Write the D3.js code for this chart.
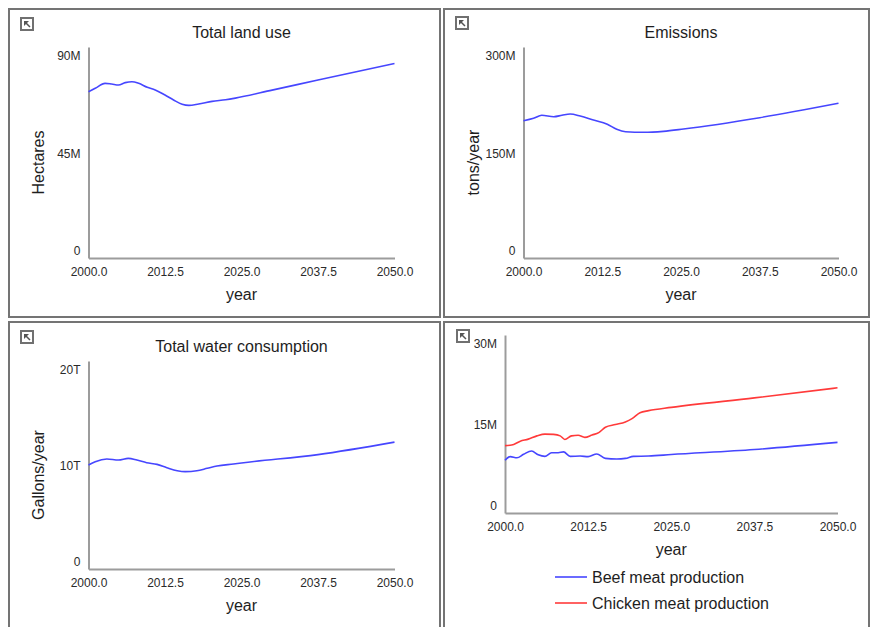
<!DOCTYPE html>
<html>
<head>
<meta charset="utf-8">
<script src="https://cdn.jsdelivr.net/npm/d3@7/dist/d3.min.js"></script>
<style>
  body { margin: 0; background: #fff; }
  svg { display: block; }
  text { font-family: "Liberation Sans", Arial, sans-serif; }
</style>
</head>
<body>
<svg id="chart" width="872" height="627"></svg>
<script>
// ---- data -------------------------------------------------------------
const xTickValues = [2000, 2012.5, 2025, 2037.5, 2050];

// Total land use (million hectares)
const landYears = [2000, 2001.1, 2002.7, 2003.8, 2004.9, 2006.0, 2007.1, 2008.2, 2009.6, 2010.9, 2012.5, 2013.9, 2015.3, 2016.4, 2018.0, 2020.2, 2022.4, 2024.0, 2030, 2037.5, 2050];
const landValues = [70.9, 72.4, 74.5, 74.2, 73.8, 74.8, 75.2, 74.5, 72.8, 71.7, 69.5, 67.4, 65.6, 65.1, 65.7, 66.8, 67.5, 68.2, 71.6, 75.9, 83.0];
const landTicks = [0, 45, 90];
const landTickLabels = ["0", "45M", "90M"];

// Emissions (million tons/year)
const emisYears = [2000, 2001.6, 2002.9, 2004.8, 2006.1, 2007.4, 2009.0, 2011.1, 2013.3, 2014.8, 2016.2, 2019.1, 2022.2, 2025.4, 2037.5, 2050];
const emisValues = [195.2, 198.6, 202.9, 200.9, 202.9, 204.7, 201.9, 196.2, 190.1, 183.0, 179.6, 178.7, 180.1, 183.4, 199.5, 220.0];
const emisTicks = [0, 150, 300];
const emisTickLabels = ["0", "150M", "300M"];

// Total water consumption (trillion gallons/year)
const waterYears = [2000, 2001.1, 2003.0, 2004.9, 2006.5, 2007.9, 2009.5, 2011.2, 2012.8, 2014.5, 2015.8, 2017.7, 2019.4, 2021.0, 2023.7, 2025, 2037.5, 2050];
const waterValues = [10.0, 10.32, 10.58, 10.48, 10.64, 10.48, 10.22, 10.06, 9.74, 9.45, 9.36, 9.45, 9.68, 9.9, 10.1, 10.2, 11.0, 12.2];
const waterTicks = [0, 10, 20];
const waterTickLabels = ["0", "10T", "20T"];

// Meat production (million)
const beefYears = [2000, 2000.8, 2001.8, 2002.8, 2004.0, 2005.0, 2006.0, 2007.0, 2008.0, 2008.8, 2009.8, 2011.3, 2012.5, 2013.8, 2015.1, 2016.8, 2018.1, 2019.3, 2021.6, 2025, 2037.5, 2050];
const beefValues = [8.9, 9.5, 9.3, 9.9, 10.45, 9.8, 9.55, 10.15, 10.15, 10.3, 9.55, 9.6, 9.5, 9.95, 9.2, 9.1, 9.2, 9.55, 9.6, 9.85, 10.7, 11.9];
const chickenYears = [2000, 2001.0, 2002.3, 2003.5, 2004.8, 2006.0, 2007.3, 2008.3, 2009.0, 2010.0, 2011.0, 2012.0, 2013.1, 2014.1, 2015.1, 2016.6, 2018.1, 2019.1, 2020.3, 2021.6, 2025, 2037.5, 2050];
const chickenValues = [11.35, 11.45, 12.1, 12.45, 13.0, 13.3, 13.25, 13.0, 12.4, 13.0, 13.1, 12.75, 13.15, 13.55, 14.45, 14.9, 15.35, 15.9, 16.9, 17.25, 17.8, 19.4, 21.1];
const meatTicks = [0, 15, 30];
const meatTickLabels = ["0", "15M", "30M"];
const meatSeriesNames = ["Beef meat production", "Chicken meat production"];

// ---- style ------------------------------------------------------------
const BLUE = "#4646ff";
const RED = "#ff3a3a";
const FRAME = "#747474";
const AXIS = "#9c9c9c";
const TEXT = "#1e1e1e";

const svg = d3.select("#chart");
svg.append("rect").attr("width", 872).attr("height", 627).attr("fill", "#fff");

const zip = (xs, ys) => xs.map((d, i) => [d, ys[i]]);

function drawIcon(g, x, y) {
  g.append("rect").attr("x", x + 1).attr("y", y + 1).attr("width", 12).attr("height", 12)
    .attr("fill", "#fff").attr("stroke", "#707070").attr("stroke-width", 2);
  g.append("path")
    .attr("d", `M${x + 4},${y + 4}L${x + 9},${y + 4}L${x + 4},${y + 9}Z`)
    .attr("fill", "#555");
  g.append("line").attr("x1", x + 5).attr("y1", y + 5).attr("x2", x + 10).attr("y2", y + 10)
    .attr("stroke", "#555").attr("stroke-width", 1.5);
}

function drawPanel(p) {
  const g = svg.append("g");

  // frame
  g.append("rect").attr("x", p.frame[0]).attr("y", p.frame[1])
    .attr("width", p.frame[2]).attr("height", p.frame[3])
    .attr("fill", "none").attr("stroke", FRAME).attr("stroke-width", 2);
  drawIcon(g, p.icon[0], p.icon[1]);

  const x = d3.scaleLinear().domain([2000, 2050]).range([p.left, p.right]);
  const y = d3.scaleLinear().domain([0, p.yMax]).range([p.bottom, p.top]);

  // x axis
  const xa = g.append("g").attr("transform", `translate(0,${p.bottom})`)
    .call(d3.axisBottom(x).tickValues(xTickValues).tickFormat(d3.format(".1f"))
      .tickSize(0).tickSizeOuter(0));
  xa.select(".domain").attr("stroke", AXIS).attr("stroke-width", 2);
  xa.selectAll("text").attr("y", 18).attr("dy", null)
    .attr("font-size", 12).attr("fill", "#2a2a2a").attr("font-family", null);

  // y axis
  const ya = g.append("g").attr("transform", `translate(${p.left},0)`)
    .call(d3.axisLeft(y).tickValues(p.ticks)
      .tickFormat((d, i) => p.tickLabels[i]).tickSize(0).tickSizeOuter(0));
  ya.select(".domain").attr("stroke", AXIS).attr("stroke-width", 2);
  ya.selectAll("text").attr("x", -8).attr("dy", null)
    .attr("y", (d, i) => i === 0 ? -4 : (i === p.ticks.length - 1 ? 12.5 : 4.5))
    .attr("font-size", 12).attr("fill", "#2a2a2a").attr("font-family", null);

  const cx = (p.left + p.right) / 2;
  if (p.title) {
    g.append("text").attr("x", cx).attr("y", p.top - 9.5).attr("text-anchor", "middle")
      .attr("font-size", 16).attr("fill", TEXT).text(p.title);
  }
  g.append("text").attr("x", cx).attr("y", p.bottom + 42).attr("text-anchor", "middle")
    .attr("font-size", 16).attr("fill", TEXT).text("year");
  if (p.yLabel) {
    const ly = (p.top + p.bottom) / 2 + 10;
    g.append("text").attr("transform", `translate(${p.left - 45},${ly}) rotate(-90)`)
      .attr("text-anchor", "middle").attr("font-size", 16).attr("fill", TEXT).text(p.yLabel);
  }

  const line = d3.line().x(d => x(d[0])).y(d => y(d[1])).curve(d3.curveMonotoneX);
  p.series.forEach(s => {
    g.append("path").datum(s.points).attr("d", line)
      .attr("fill", "none").attr("stroke", s.color).attr("stroke-width", 1.6)
      .attr("stroke-linejoin", "round");
  });
  return g;
}

drawPanel({
  frame: [9, 9, 431, 308], icon: [20, 17],
  left: 88.5, right: 394.5, top: 47, bottom: 258, yMax: 90,
  ticks: landTicks, tickLabels: landTickLabels,
  title: "Total land use", yLabel: "Hectares",
  series: [{ points: zip(landYears, landValues), color: BLUE }]
});

drawPanel({
  frame: [444, 9, 425, 308], icon: [455, 16],
  left: 523.5, right: 838.5, top: 47, bottom: 258, yMax: 300,
  ticks: emisTicks, tickLabels: emisTickLabels,
  title: "Emissions", yLabel: "tons/year",
  series: [{ points: zip(emisYears, emisValues), color: BLUE }]
});

drawPanel({
  frame: [9, 322, 431, 320], icon: [20, 330],
  left: 88.5, right: 394.5, top: 361, bottom: 569, yMax: 20,
  ticks: waterTicks, tickLabels: waterTickLabels,
  title: "Total water consumption", yLabel: "Gallons/year",
  series: [{ points: zip(waterYears, waterValues), color: BLUE }]
});

const meat = drawPanel({
  frame: [444, 322, 425, 320], icon: [456, 329],
  left: 505, right: 837.5, top: 335, bottom: 513, yMax: 30,
  ticks: meatTicks, tickLabels: meatTickLabels,
  title: null, yLabel: null,
  series: [
    { points: zip(beefYears, beefValues), color: BLUE },
    { points: zip(chickenYears, chickenValues), color: RED }
  ]
});

// legend
const legendColors = [BLUE, RED];
meatSeriesNames.forEach((name, i) => {
  const ly = 577 + i * 26;
  meat.append("line").attr("x1", 555).attr("x2", 587).attr("y1", ly).attr("y2", ly)
    .attr("stroke", legendColors[i]).attr("stroke-width", 1.6);
  meat.append("text").attr("x", 592).attr("y", ly + 6).attr("font-size", 16)
    .attr("fill", TEXT).text(name);
});
</script>
</body>
</html>
